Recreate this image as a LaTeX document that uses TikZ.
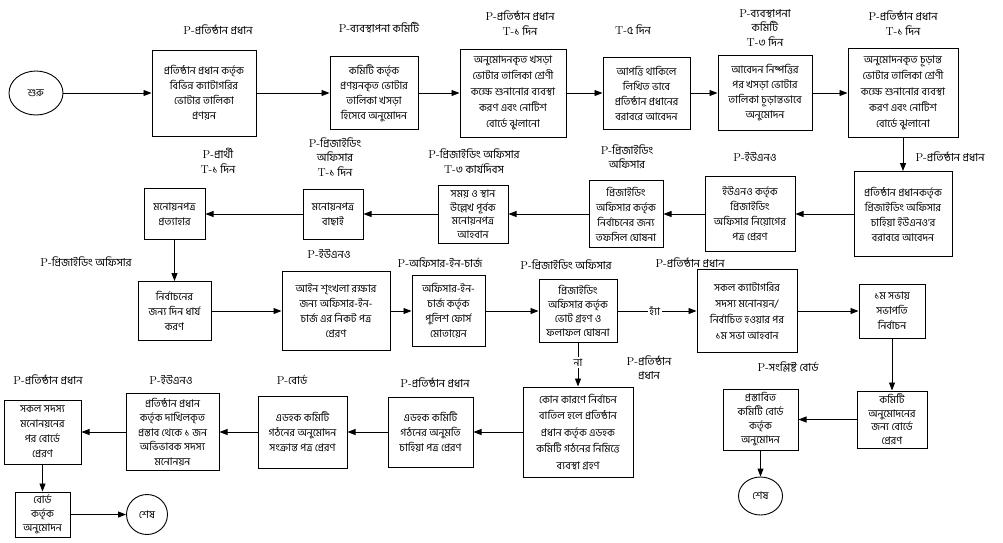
\documentclass[tikz,border=0pt]{standalone}
\usepackage{fontspec}
\newfontfamily\bn[Script=Bengali]{Hind Siliguri}
\usetikzlibrary{arrows.meta,shapes.geometric}
\newcommand{\myP}{{\fontsize{11.5}{13}\selectfont\rmfamily P-}}
\newcommand{\myT}{{\fontsize{11.5}{13}\selectfont\rmfamily T-}}
\newcommand{\fs}[1]{\bn\fontsize{10.5}{#1}\selectfont}
\newcommand{\fl}{\bn\fontsize{11}{14.5}\selectfont}
\tikzset{
  box/.style={draw, line width=1pt, align=center, inner sep=0pt, font=\fs{15}},
  oval/.style={draw, line width=0.9pt, ellipse, inner sep=0pt, font=\fs{12}},
  lab/.style={align=center, inner sep=0pt, font=\fl},
  arr/.style={line width=0.9pt, -{Triangle[length=8pt,width=6pt]}},
  on/.style={fill=white, inner sep=1.5pt, font=\fs{12}}
}
\begin{document}
\begin{tikzpicture}[x=1pt,y=-1pt]
\useasboundingbox (0,0) rectangle (1003,542);
% row 1
\node[oval, minimum width=54pt, minimum height=44pt] (s) at (36,93) {শুরু};
\node[box, minimum width=104pt, minimum height=86pt] (b1) at (204,93) {প্রতিষ্ঠান প্রধান কর্তৃক\\বিভিন্ন ক্যাটাগরির\\ভোটার তালিকা\\প্রণয়ন};
\node[box, minimum width=88pt, minimum height=73pt] (b2) at (374,93) {কমিটি কর্তৃক\\প্রণয়নকৃত ভোটার\\তালিকা খসড়া\\হিসেবে অনুমোদন};
\node[box, minimum width=106pt, minimum height=88pt, font=\fs{16}] (b3) at (513,93) {অনুমোদনকৃত খসড়া\\ভোটার তালিকা শ্রেণী\\কক্ষে শুনানোর ব্যবস্থা\\করণ এবং নোটিশ\\বোর্ডে ঝুলানো};
\node[box, minimum width=87pt, minimum height=72pt] (b4) at (646.5,93) {আপত্তি থাকিলে\\লিখিত ভাবে\\প্রতিষ্ঠান প্রধানের\\বরাবরে আবেদন};
\node[box, minimum width=94pt, minimum height=75pt] (b5) at (765,93) {আবেদন নিষ্পত্তির\\পর খসড়া ভোটার\\তালিকা চূড়ান্তভাবে\\অনুমোদন};
\node[box, minimum width=110pt, minimum height=89pt, font=\fs{16}] (b6) at (903,93) {অনুমোদনকৃত চূড়ান্ত\\ভোটার তালিকা শ্রেণী\\কক্ষে শুনানোর ব্যবস্থা\\করণ এবং নোটিশ\\বোর্ডে ঝুলানো};
\node[lab] (l1) at (218,30) {\myP প্রতিষ্ঠান প্রধান};
\node[lab] (l2) at (379,28) {\myP ব্যবস্থাপনা কমিটি};
\node[lab] (l3) at (520,23) {\myP প্রতিষ্ঠান প্রধান\\\myT ১ দিন};
\node[lab] (l4) at (633,30) {\myT ৫ দিন};
\node[lab] (l5) at (765,28) {\myP ব্যবস্থাপনা\\কমিটি\\\myT ৩ দিন};
\node[lab] (l6) at (903,23) {\myP প্রতিষ্ঠান প্রধান\\\myT ১ দিন};
% row 2
\node[box, minimum width=98pt, minimum height=85pt] (b7) at (903,214) {প্রতিষ্ঠান প্রধানকর্তৃক\\প্রিজাইডিং অফিসার\\চাহিয়া ইউএনও'র\\বরাবরে আবেদন};
\node[box, minimum width=90pt, minimum height=75pt] (b8) at (750,214) {ইউএনও কর্তৃক\\প্রিজাইডিং\\অফিসার নিয়োগের\\পত্র প্রেরণ};
\node[box, minimum width=74pt, minimum height=67pt] (b9) at (626,214) {প্রিজাইডিং\\অফিসার কর্তৃক\\নির্বাচনের জন্য\\তফসিল ঘোষনা};
\node[box, minimum width=70pt, minimum height=58pt, font=\fs{13.5}] (b10) at (473,214) {সময় ও স্থান\\উল্লেখ পূর্বক\\মনোয়নপত্র\\আহবান};
\node[box, minimum width=60pt, minimum height=50pt] (b11) at (333,214) {মনোয়নপত্র\\বাছাই};
\node[box, minimum width=61pt, minimum height=51pt] (b12) at (174.5,214) {মনোয়নপত্র\\প্রত্যাহার};
\node[lab] (l7) at (950,157) {\myP প্রতিষ্ঠান প্রধান};
\node[lab] (l8) at (755,157) {\myP ইউএনও};
\node[lab] (l9) at (627,157) {\myP প্রিজাইডিং\\অফিসার};
\node[lab] (l10) at (474,161) {\myP প্রিজাইডিং অফিসার\\\myT ৩ কার্যদিবস};
\node[lab] (l11) at (335,157) {\myP প্রিজাইডিং\\অফিসার\\\myT ১ দিন};
\node[lab] (l12) at (218,161) {\myP প্রার্থী\\\myT ১ দিন};
% row 3
\node[box, minimum width=73pt, minimum height=59pt] (b13) at (174.5,311) {নির্বাচনের\\জন্য দিন ধার্য\\করণ};
\node[box, minimum width=108pt, minimum height=79pt] (b14) at (336,311) {আইন শৃংখলা রক্ষার\\জন্য অফিসার-ইন-\\চার্জ এর নিকট পত্র\\প্রেরণ};
\node[box, minimum width=73pt, minimum height=71pt] (b15) at (448.5,311) {অফিসার-ইন-\\চার্জ কর্তৃক\\পুলিশ ফোর্স\\মোতায়েন};
\node[box, minimum width=78pt, minimum height=63pt, font=\fs{14}] (b16) at (578,311) {প্রিজাইডিং\\অফিসার কর্তৃক\\ভোট গ্রহণ ও\\ফলাফল ঘোষনা};
\node[box, minimum width=100pt, minimum height=83pt, font=\fs{16}] (b17) at (747,311) {সকল ক্যাটাগরির\\সদস্য মনোনয়ন/\\নির্বাচিত হওয়ার পর\\১ম সভা আহবান};
\node[box, minimum width=66pt, minimum height=54pt] (b18) at (892,311) {১ম সভায়\\সভাপতি\\নির্বাচন};
\node[lab] (l13) at (86,262) {\myP প্রিজাইডিং অফিসার};
\node[lab] (l14) at (329,254) {\myP ইউএনও};
\node[lab] (l15) at (440,263) {\myP অফিসার-ইন-চার্জ};
\node[lab] (l16) at (566,265) {\myP প্রিজাইডিং অফিসার};
\node[lab] (l17) at (690,263) {\myP প্রতিষ্ঠান প্রধান};
% row 4 right
\node[box, minimum width=70pt, minimum height=57pt, font=\fs{13.5}] (b19) at (892,419.5) {কমিটি\\অনুমোদনের\\জন্য বোর্ডে\\প্রেরণ};
\node[box, minimum width=75pt, minimum height=61pt, font=\fs{14}] (b20) at (760.5,419.5) {প্রস্তাবিত\\কমিটি বোর্ড\\কর্তৃক\\অনুমোদন};
\node[oval, minimum width=44pt, minimum height=38pt] (e2) at (760.5,496) {শেষ};
\node[lab] (l20) at (788,367) {\myP সংশ্লিষ্ট বোর্ড};
% row 4 left
\node[box, minimum width=110pt, minimum height=90pt, font=\fs{16.5}] (b21) at (578,432) {কোন কারণে নির্বাচন\\বাতিল হলে প্রতিষ্ঠান\\প্রধান কর্তৃক এডহক\\কমিটি গঠনের নিমিত্তে\\ব্যবস্থা গ্রহণ};
\node[box, minimum width=85pt, minimum height=70pt] (b22) at (430.5,432) {এডহক কমিটি\\গঠনের অনুমতি\\চাহিয়া পত্র প্রেরণ};
\node[box, minimum width=89pt, minimum height=72pt] (b23) at (302.5,432) {এডহক কমিটি\\গঠনের অনুমোদন\\সংক্রান্ত পত্র প্রেরণ};
\node[box, minimum width=93pt, minimum height=77pt, font=\fs{14.5}] (b24) at (172.5,432) {প্রতিষ্ঠান প্রধান\\কর্তৃক দাখিলকৃত\\প্রস্তাব থেকে ১ জন\\অভিভাবক সদস্য\\মনোনয়ন};
\node[box, minimum width=77pt, minimum height=64pt] (b25) at (42.5,432) {সকল সদস্য\\মনোনয়নের\\পর বোর্ডে\\প্রেরণ};
\node[box, minimum width=55pt, minimum height=45pt, font=\fs{14}] (b26) at (42.5,514.5) {বোর্ড\\কর্তৃক\\অনুমোদন};
\node[oval, minimum width=41pt, minimum height=40pt] (e1) at (147,514.5) {শেষ};
\node[lab] (l21) at (649,368) {\myP প্রতিষ্ঠান\\প্রধান};
\node[lab] (l22) at (435,383) {\myP প্রতিষ্ঠান প্রধান};
\node[lab] (l23) at (292,380) {\myP বোর্ড};
\node[lab] (l24) at (171,380) {\myP ইউএনও};
\node[lab] (l25) at (48,380) {\myP প্রতিষ্ঠান প্রধান};
% connectors
\draw[arr] (s) -- (b1);
\draw[arr] (b1) -- (b2);
\draw[arr] (b2) -- (b3);
\draw[arr] (b3) -- (b4);
\draw[arr] (b4) -- (b5);
\draw[arr] (b5) -- (b6);
\draw[arr] (b6) -- (b7);
\draw[arr] (b7) -- (b8);
\draw[arr] (b8) -- (b9);
\draw[arr] (b9) -- (b10);
\draw[arr] (b10) -- (b11);
\draw[arr] (b11) -- (b12);
\draw[arr] (b12) -- (b13);
\draw[arr] (b13) -- (b14);
\draw[arr] (b14) -- (b15);
\draw[arr] (b15) -- (b16);
\draw[arr] (b16) -- node[on, pos=0.47] {হ্যাঁ} (b17);
\draw[arr] (b17) -- (b18);
\draw[arr] (b18) -- (b19);
\draw[arr] (b19) -- (b20);
\draw[arr] (b20) -- (e2);
\draw[arr] (b16) -- node[on, pos=0.45] {না} (b21);
\draw[arr] (b21) -- (b22);
\draw[arr] (b22) -- (b23);
\draw[arr] (b23) -- (b24);
\draw[arr] (b24) -- (b25);
\draw[arr] (b25) -- (b26);
\draw[arr] (b26) -- (e1);
\end{tikzpicture}
\end{document}
